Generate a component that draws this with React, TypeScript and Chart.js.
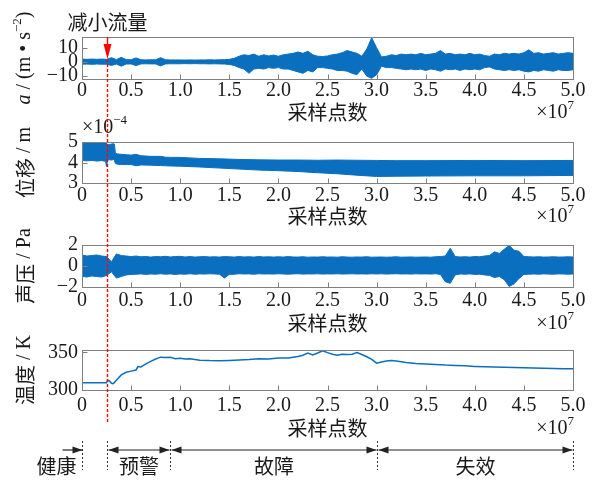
import React, { useEffect, useRef } from 'react';
import { Chart, registerables } from 'chart.js';

Chart.register(...registerables);

const W = 595;
const H = 480;
const PLOT_LEFT = 82;
const PLOT_RIGHT = 573;
const BLUE = '#0b6fc0';
const RED = '#ff0000';
const INK = '#1a1a1a';
const FRAME = '#808080';
const SERIF = '"Liberation Serif", "Times New Roman", serif';
const CJK = '"Noto Sans CJK SC", sans-serif';

// x axis (sample index, ×10^7)
const X_TICKS = [0, 0.5, 1.0, 1.5, 2.0, 2.5, 3.0, 3.5, 4.0, 4.5, 5.0];
const GRID_STEP = 0.05; // sampling grid of the envelope readings (×10^7)

// Panel 1: acceleration envelope (m/s^2), read every 0.05e7 samples
const ACC_HI = [
  2, 1.8, 2, 1.8, 2, 1.8, 3, 1.6, 3.2, 1.6,
  1.5, 2.8, 1.5, 1.4, 1.5, 1.5, 3, 1.5, 1.4, 1.4,
  1.4, 1.3, 1.4, 1.3, 1.4, 1.4, 1.5, 1.4, 1.5, 1.6,
  1.8, 2.5, 4, 5, 4.5, 5.5, 4, 5, 4.2, 4.8,
  4, 5, 5.5, 6, 7, 6, 7.5, 5, 4, 3.8,
  4.2, 5, 5.5, 6.5, 8, 7, 6, 4, 9, 17,
  10, 3.5, 4, 5, 4.5, 5.5, 5, 5.5, 5, 6,
  5, 5.5, 6, 8, 5.5, 6, 5, 5.5, 5, 6,
  5, 5.5, 4.5, 4, 5.5, 5, 6, 5.5, 6, 5.5,
  6.5, 8.5, 6, 6.5, 5.5, 6, 6.5, 5.5, 6, 6.5,
  6,
];
const ACC_LO = [
  -1.6, -1.5, -1.7, -1.5, -1.6, -1.6, -2.5, -1.5, -3, -1.5,
  -1.4, -2.6, -1.4, -1.3, -1.4, -1.4, -2.8, -1.4, -1.3, -1.3,
  -1.3, -1.2, -1.3, -1.2, -1.3, -1.3, -1.4, -1.3, -1.4, -1.5,
  -1.8, -2.5, -4, -5, -8, -5, -4.5, -5, -4, -4.5,
  -4, -5, -5, -6, -7, -8, -6, -7, -4, -4,
  -4.5, -5, -6, -6, -6.5, -8, -9, -5, -10, -11.5,
  -9, -3, -4, -4, -4.5, -5, -5.5, -5, -5.5, -5,
  -6, -5, -5.5, -6.5, -5, -5.5, -5, -6, -5, -5.5,
  -5, -5.5, -4, -3.5, -5, -5.5, -6, -5.5, -6, -5.5,
  -6.5, -7, -6, -6.5, -5.5, -6, -6.5, -5.5, -6, -6,
  -5.5,
];

// Panel 2: displacement envelope (×10^-4 m)
const DISP_X = [0, 0.05, 0.1, 0.15, 0.2, 0.24, 0.25, 0.26, 0.28, 0.3, 0.32, 0.33, 0.34, 0.36, 0.4, 0.45, 0.5, 0.55, 0.6, 0.7, 0.8, 0.85, 0.9, 1.0, 1.2, 1.4, 1.6, 1.8, 2.0, 2.2, 2.4, 2.6, 2.8, 3.0, 3.2, 3.5, 4.0, 4.5, 5.0];
const DISP_HI = [4.98, 4.97, 4.98, 4.97, 4.98, 4.97, 4.95, 4.85, 4.88, 4.9, 4.92, 4.9, 4.45, 4.42, 4.4, 4.38, 4.36, 4.4, 4.33, 4.3, 4.3, 4.26, 4.25, 4.25, 4.2, 4.18, 4.15, 4.13, 4.12, 4.12, 4.11, 4.12, 4.11, 4.1, 4.09, 4.09, 4.1, 4.09, 4.1];
const DISP_LO = [4.1, 4.08, 4.1, 4.07, 4.09, 4.06, 3.8, 4.12, 4.13, 4.12, 4.15, 4.1, 3.95, 3.92, 3.9, 3.9, 3.9, 3.84, 3.88, 3.87, 3.85, 3.84, 3.83, 3.82, 3.78, 3.73, 3.68, 3.63, 3.6, 3.56, 3.5, 3.45, 3.38, 3.32, 3.33, 3.34, 3.35, 3.35, 3.37];

// Panel 3: sound pressure envelope (Pa), read every 0.05e7 samples
const PRES_HI = [
  1.05, 0.95, 1.0, 1.05, 0.95, 0.9, 0.4, 1.15, 1.0, 0.95,
  0.9, 0.95, 0.88, 0.9, 0.85, 0.9, 0.88, 0.92, 0.86, 0.9,
  0.92, 0.86, 0.9, 0.85, 0.88, 0.9, 0.86, 0.88, 0.85, 0.9,
  0.88, 0.85, 0.9, 0.86, 0.88, 0.85, 0.9, 0.86, 0.88, 0.85,
  0.88, 0.85, 0.9, 0.86, 0.85, 0.88, 0.84, 0.86, 0.85, 0.88,
  0.85, 0.86, 0.84, 0.88, 0.85, 0.84, 0.86, 0.85, 0.88, 0.84,
  0.85, 0.86, 0.84, 0.85, 0.88, 0.84, 0.85, 0.86, 0.84, 0.85,
  0.86, 0.84, 0.88, 0.9, 0.95, 1.7, 0.9, 0.86, 0.88, 0.85,
  0.9, 0.88, 0.95, 1.0, 1.35, 1.2, 1.6, 1.95, 1.5, 1.4,
  0.9, 0.88, 0.86, 0.88, 0.85, 0.86, 0.88, 0.85, 0.86, 0.88,
  0.86,
];
const PRES_LO = [
  -1.0, -1.05, -0.95, -1.0, -1.05, -0.9, -0.55, -1.15, -1.0, -0.85,
  -0.8, -0.78, -0.75, -0.8, -0.76, -0.78, -0.74, -0.78, -0.75, -0.8,
  -0.76, -0.78, -0.74, -0.78, -0.75, -0.77, -0.74, -0.76, -0.78, -1.15,
  -0.8, -0.78, -0.74, -0.76, -0.75, -0.78, -0.74, -0.76, -0.75, -0.77,
  -0.74, -0.76, -0.78, -0.75, -0.74, -0.77, -0.75, -0.76, -0.74, -0.77,
  -0.75, -0.76, -0.74, -0.77, -0.75, -0.74, -0.76, -0.75, -0.77, -0.74,
  -0.76, -0.74, -0.77, -0.75, -0.74, -0.76, -0.75, -0.77, -0.74, -0.76,
  -0.75, -0.77, -0.74, -0.8, -1.5, -1.65, -0.85, -0.76, -0.78, -0.75,
  -0.8, -0.78, -0.85, -0.9, -1.1, -1.0, -1.3, -1.95, -1.7, -1.2,
  -0.8, -0.78, -0.76, -0.78, -0.75, -0.77, -0.78, -0.75, -0.76, -0.78,
  -0.76,
];

// Panel 4: temperature (K)
const TEMP_X = [0, 0.1, 0.2, 0.25, 0.26, 0.28, 0.3, 0.32, 0.35, 0.4, 0.45, 0.5, 0.55, 0.57, 0.6, 0.65, 0.7, 0.75, 0.8, 0.85, 0.9, 0.95, 1.0, 1.05, 1.1, 1.2, 1.3, 1.4, 1.5, 1.6, 1.7, 1.8, 1.9, 2.0, 2.1, 2.2, 2.25, 2.3, 2.35, 2.4, 2.45, 2.5, 2.55, 2.6, 2.65, 2.7, 2.75, 2.8, 2.85, 2.9, 2.95, 3.0, 3.05, 3.1, 3.15, 3.2, 3.3, 3.4, 3.5, 3.6, 3.7, 3.8, 3.9, 4.0, 4.1, 4.2, 4.3, 4.4, 4.5, 4.6, 4.7, 4.8, 4.9, 5.0];
const TEMP = [309.5, 309.6, 309.5, 309.7, 313, 312, 309, 308.5, 313, 320, 323.5, 325, 326.5, 331, 330.5, 334.5, 338, 341, 343.5, 343, 343.5, 341.5, 342, 341, 341.5, 339.5, 339, 338.8, 339.2, 339.8, 340.5, 341.5, 341.2, 342.5, 342.5, 344.5, 346, 349, 346.5, 349, 352, 349.5, 347.5, 346, 347.5, 347, 347.5, 349.5, 347, 344, 340.5, 335.5, 337, 338.5, 339, 338.5, 336.5, 335.2, 334.5, 333.8, 333, 332.5, 332, 331.3, 330.8, 330.4, 330, 329.7, 329.4, 329, 328.7, 328.4, 328.2, 328];

// Event & phases
const EVENT_X = 0.25;
const EVENT_LABEL = '减小流量';
const PHASE_BOUNDS = [0, 0.25, 0.9, 3.0, 5.0];
const PHASE_LABELS = ['健康', '预警', '故障', '失效'];

type Seg = { t: string; cjk?: boolean; it?: boolean; sup?: boolean };

function segFont(s: Seg) {
  const size = s.sup ? 13 : 20;
  return `${s.it ? 'italic ' : ''}${size}px ${s.cjk ? CJK : SERIF}`;
}

function drawRich(ctx: CanvasRenderingContext2D, segs: Seg[], x: number, y: number, rot: number, align: 'left' | 'center' | 'right') {
  ctx.save();
  ctx.translate(x, y);
  ctx.rotate(rot);
  let total = 0;
  const ws = segs.map((s) => {
    ctx.font = segFont(s);
    const w = ctx.measureText(s.t).width;
    total += w;
    return w;
  });
  let cx = align === 'center' ? -total / 2 : align === 'right' ? -total : 0;
  ctx.textBaseline = 'middle';
  ctx.textAlign = 'left';
  ctx.fillStyle = INK;
  segs.forEach((s, i) => {
    ctx.font = segFont(s);
    ctx.fillText(s.t, cx, s.sup ? -7 : 0);
    cx += ws[i];
  });
  ctx.restore();
}

function gridPoints(vals: number[]) {
  return vals.map((v, i) => ({ x: i * GRID_STEP, y: v }));
}
function pairPoints(xs: number[], vals: number[]) {
  return xs.map((x, i) => ({ x, y: vals[i] }));
}

function band(hi: { x: number; y: number }[], lo: { x: number; y: number }[]) {
  return [
    { data: hi, borderColor: BLUE, backgroundColor: BLUE, borderWidth: 1, pointRadius: 0, fill: '+1' },
    { data: lo, borderColor: BLUE, backgroundColor: BLUE, borderWidth: 1, pointRadius: 0, fill: false },
  ];
}

function arrow(ctx: CanvasRenderingContext2D, x1: number, x2: number, y: number, headStart: boolean, headEnd: boolean) {
  const L = 10;
  const h = 3.5;
  ctx.strokeStyle = '#222';
  ctx.fillStyle = '#222';
  ctx.lineWidth = 1.2;
  ctx.beginPath();
  ctx.moveTo(x1, y);
  ctx.lineTo(x2, y);
  ctx.stroke();
  if (headEnd) {
    ctx.beginPath();
    ctx.moveTo(x2, y);
    ctx.lineTo(x2 - L, y - h);
    ctx.lineTo(x2 - L, y + h);
    ctx.closePath();
    ctx.fill();
  }
  if (headStart) {
    ctx.beginPath();
    ctx.moveTo(x1, y);
    ctx.lineTo(x1 + L, y - h);
    ctx.lineTo(x1 + L, y + h);
    ctx.closePath();
    ctx.fill();
  }
}

function drawEventAndPhases(chart: any) {
  const ctx: CanvasRenderingContext2D = chart.ctx;
  const xs = chart.scales.x;
  const xr = Math.round(xs.getPixelForValue(EVENT_X)) + 0.5;
  ctx.save();

  // phase annotations
  const px = PHASE_BOUNDS.map((v) => Math.round(xs.getPixelForValue(v)) + 0.5);
  const yA = 450;
  const yT = 466;
  ctx.strokeStyle = '#333';
  ctx.lineWidth = 1;
  ctx.setLineDash([2, 2]);
  px.forEach((p) => {
    ctx.beginPath();
    ctx.moveTo(p, 441);
    ctx.lineTo(p, 470);
    ctx.stroke();
  });
  ctx.setLineDash([]);
  arrow(ctx, px[0] - 20, px[0], yA, false, true);
  for (let i = 1; i < px.length - 1; i++) {
    arrow(ctx, px[i] + 1, px[i + 1] - 1, yA, true, true);
  }
  ctx.font = `20px ${CJK}`;
  ctx.fillStyle = INK;
  ctx.textAlign = 'center';
  ctx.textBaseline = 'middle';
  PHASE_LABELS.forEach((lab, i) => {
    const cx = i === 0 ? px[0] - 26 : (px[i] + px[i + 1]) / 2;
    ctx.fillText(lab, cx, yT);
  });

  // event label
  ctx.fillText(EVENT_LABEL, xr, 22);

  // red marker
  ctx.strokeStyle = RED;
  ctx.fillStyle = RED;
  ctx.lineWidth = 1.4;
  ctx.beginPath();
  ctx.moveTo(xr, 37);
  ctx.lineTo(xr, 45);
  ctx.stroke();
  ctx.beginPath();
  ctx.moveTo(xr - 4, 44);
  ctx.lineTo(xr + 4, 44);
  ctx.lineTo(xr, 59);
  ctx.closePath();
  ctx.fill();
  ctx.setLineDash([3, 2]);
  ctx.beginPath();
  ctx.moveTo(xr, 59);
  ctx.lineTo(xr, 422);
  ctx.stroke();
  ctx.setLineDash([]);
  ctx.restore();
}

type Panel = {
  key: string;
  top: number;
  bottom: number;
  titleY: number;
  tickPad: number;
  yMin: number;
  yMax: number;
  yTicks: number[];
  yTitle: Seg[];
  datasets: () => any[];
  extra?: (chart: any) => void;
};

const PANELS: Panel[] = [
  {
    key: 'acc', top: 37, bottom: 79, titleY: 112, tickPad: 0,
    yMin: -12, yMax: 17.5, yTicks: [-10, 0, 10],
    yTitle: [{ t: 'a', it: true }, { t: ' / (m • s' }, { t: '−2', sup: true }, { t: ')' }],
    datasets: () => band(gridPoints(ACC_HI), gridPoints(ACC_LO)),
  },
  {
    key: 'disp', top: 142, bottom: 183, titleY: 216, tickPad: 1,
    yMin: 3, yMax: 5, yTicks: [3, 4, 5],
    yTitle: [{ t: '位移', cjk: true }, { t: ' / m' }],
    datasets: () => band(pairPoints(DISP_X, DISP_HI), pairPoints(DISP_X, DISP_LO)),
    extra: (chart) => {
      drawRich(chart.ctx, [{ t: '×10' }, { t: '−4', sup: true }], chart.chartArea.left, 128, 0, 'left');
    },
  },
  {
    key: 'pres', top: 245, bottom: 287, titleY: 323, tickPad: 2,
    yMin: -2, yMax: 2, yTicks: [-2, 0, 2],
    yTitle: [{ t: '声压', cjk: true }, { t: ' / Pa' }],
    datasets: () => band(gridPoints(PRES_HI), gridPoints(PRES_LO)),
  },
  {
    key: 'temp', top: 350, bottom: 390, titleY: 428, tickPad: 4,
    yMin: 300, yMax: 353, yTicks: [300, 350],
    yTitle: [{ t: '温度', cjk: true }, { t: ' / K' }],
    datasets: () => [
      { data: pairPoints(TEMP_X, TEMP), borderColor: BLUE, borderWidth: 1.5, pointRadius: 0, fill: false },
    ],
    extra: drawEventAndPhases,
  },
];

function makePlugin(p: Panel) {
  return {
    id: 'deco_' + p.key,
    afterDraw(chart: any) {
      const ctx: CanvasRenderingContext2D = chart.ctx;
      const a = chart.chartArea;
      const xs = chart.scales.x;
      const ys = chart.scales.y;
      ctx.save();
      ctx.strokeStyle = FRAME;
      ctx.lineWidth = 1;
      const l = Math.round(a.left) + 0.5;
      const t = Math.round(a.top) + 0.5;
      const r = Math.round(a.right) + 0.5;
      const b = Math.round(a.bottom) + 0.5;
      ctx.strokeRect(l, t, r - l, b - t);
      ctx.beginPath();
      for (const tk of xs.ticks) {
        const px = Math.round(xs.getPixelForValue(tk.value)) + 0.5;
        ctx.moveTo(px, b);
        ctx.lineTo(px, b - 5);
      }
      for (const tk of ys.ticks) {
        const py = Math.round(ys.getPixelForValue(tk.value)) + 0.5;
        ctx.moveTo(l, py);
        ctx.lineTo(l + 5, py);
      }
      ctx.stroke();
      ctx.restore();
      drawRich(ctx, p.yTitle, 25, (a.top + a.bottom) / 2, -Math.PI / 2, 'center');
      drawRich(ctx, [{ t: '×10' }, { t: '7', sup: true }], a.right + 1, p.titleY + 1, 0, 'right');
      if (p.extra) p.extra(chart);
    },
  };
}

function buildConfig(p: Panel): any {
  return {
    type: 'line',
    data: { datasets: p.datasets() },
    options: {
      responsive: false,
      animation: false,
      events: [],
      layout: { padding: { left: 0, right: W - PLOT_RIGHT, top: p.top, bottom: H - (p.titleY + 12) } },
      plugins: { legend: { display: false }, tooltip: { enabled: false }, title: { display: false } },
      elements: { line: { tension: 0 }, point: { radius: 0 } },
      scales: {
        x: {
          type: 'linear', min: 0, max: 5,
          grid: { display: false, drawTicks: false },
          border: { display: false },
          afterBuildTicks: (s: any) => { s.ticks = X_TICKS.map((v) => ({ value: v })); },
          afterFit: (s: any) => { s.height = p.titleY + 12 - p.bottom; s.paddingLeft = 0; s.paddingRight = 0; },
          ticks: {
            autoSkip: false, maxRotation: 0, minRotation: 0, padding: p.tickPad, color: INK,
            font: { family: SERIF, size: 20 },
            callback: (v: any) => (Number(v) === 0 ? '0' : Number(v).toFixed(1)),
          },
          title: { display: true, text: '采样点数', color: INK, font: { family: CJK, size: 20 }, padding: 0 },
        },
        y: {
          type: 'linear', min: p.yMin, max: p.yMax,
          grid: { display: false, drawTicks: false },
          border: { display: false },
          afterBuildTicks: (s: any) => { s.ticks = p.yTicks.map((v) => ({ value: v })); },
          afterFit: (s: any) => { s.width = PLOT_LEFT; s.paddingTop = 0; s.paddingBottom = 0; },
          ticks: {
            autoSkip: false,
            padding: 4, color: INK, font: { family: SERIF, size: 20 },
            callback: (v: any) => String(v).replace('-', '−'),
          },
        },
      },
    },
    plugins: [makePlugin(p)],
  };
}

export default function App() {
  const r0 = useRef<HTMLCanvasElement>(null);
  const r1 = useRef<HTMLCanvasElement>(null);
  const r2 = useRef<HTMLCanvasElement>(null);
  const r3 = useRef<HTMLCanvasElement>(null);
  const refs = [r0, r1, r2, r3];

  useEffect(() => {
    const charts = PANELS.map((p, i) => new Chart(refs[i].current as HTMLCanvasElement, buildConfig(p)));
    return () => charts.forEach((c) => c.destroy());
  }, []);

  return (
    <div style={{ position: 'fixed', left: 0, top: 0, width: W, height: H, background: '#fff' }}>
      {PANELS.map((p, i) => (
        <canvas
          key={p.key}
          ref={refs[i]}
          width={W}
          height={H}
          style={{ position: 'absolute', left: 0, top: 0, width: W, height: H }}
        />
      ))}
    </div>
  );
}
